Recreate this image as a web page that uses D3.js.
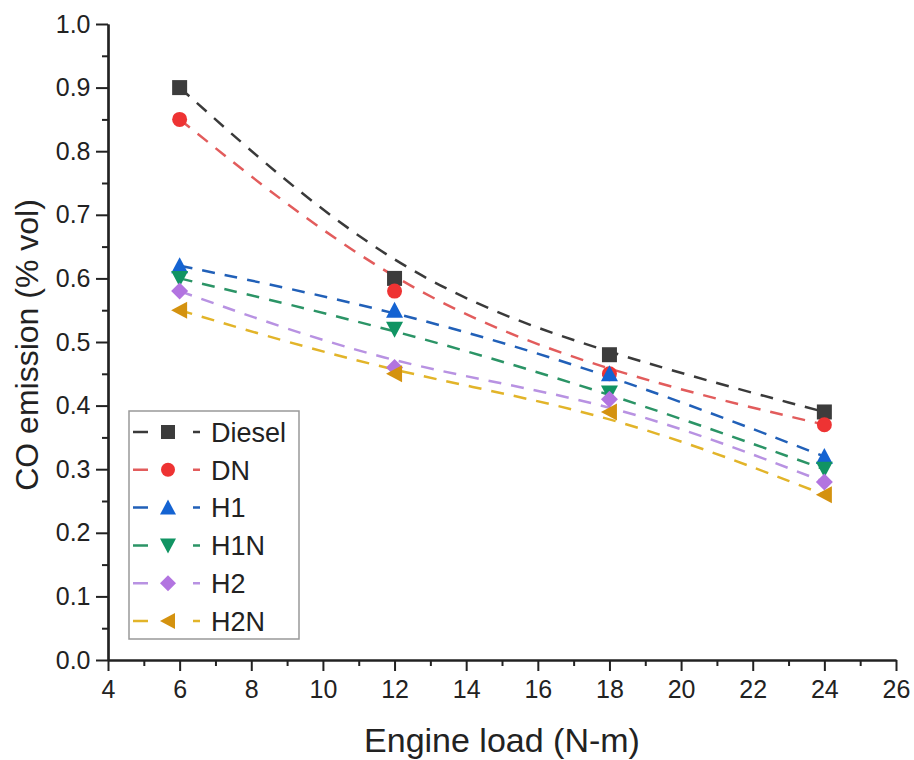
<!DOCTYPE html>
<html>
<head>
<meta charset="utf-8">
<script src="https://cdn.jsdelivr.net/npm/d3@7"></script>
<style>
	body { margin: 0; background: #fff; }
	svg { font-family: "Liberation Sans", Arial, sans-serif; }
</style>
</head>
<body>
<svg id="canvas" width="914" height="760"></svg>
<script>
// engine load values (N-m)
var loads = [6, 12, 18, 24];

// CO emission (% vol) for each fuel
var diesel = [0.90, 0.60, 0.48, 0.39];
var dn = [0.85, 0.58, 0.45, 0.37];
var h1 = [0.62, 0.55, 0.45, 0.32];
var h1n = [0.60, 0.52, 0.42, 0.30];
var h2 = [0.58, 0.46, 0.41, 0.28];
var h2n = [0.55, 0.45, 0.39, 0.26];

var xTicks = [4, 6, 8, 10, 12, 14, 16, 18, 20, 22, 24, 26];
var yTicks = [0.0, 0.1, 0.2, 0.3, 0.4, 0.5, 0.6, 0.7, 0.8, 0.9, 1.0];

var series = [
	{ name: "Diesel", values: diesel, line: "#3a3a3a", fill: "#3c3c3c", symbol: "square" },
	{ name: "DN", values: dn, line: "#e25c5c", fill: "#ee3333", symbol: "circle" },
	{ name: "H1", values: h1, line: "#2160b8", fill: "#1463d2", symbol: "up" },
	{ name: "H1N", values: h1n, line: "#2b9466", fill: "#119463", symbol: "down" },
	{ name: "H2", values: h2, line: "#b892e2", fill: "#b274e0", symbol: "diamond" },
	{ name: "H2N", values: h2n, line: "#e2b429", fill: "#d4920f", symbol: "left" }
];

const svg = d3.select("#canvas");

const x = d3.scaleLinear().domain([4, 26]).range([108, 896]);
const y = d3.scaleLinear().domain([0, 1]).range([660, 24]);

// symbol paths centred at 0,0
function symbolPath(kind, s) {
	const h = s / 2;
	if (kind === "square") return `M${-h},${-h}H${h}V${h}H${-h}Z`;
	if (kind === "circle") return d3.symbol(d3.symbolCircle, Math.PI * h * h)();
	if (kind === "up") return `M0,${-h - 1}L${h + 1},${h}L${-h - 1},${h}Z`;
	if (kind === "down") return `M0,${h + 1}L${h + 1},${-h}L${-h - 1},${-h}Z`;
	if (kind === "diamond") return `M0,${-h - 1}L${h + 1},0L0,${h + 1}L${-h - 1},0Z`;
	if (kind === "left") return `M${-h - 1},0L${h},${-h - 1}L${h},${h + 1}Z`;
}

// axes
const axisColor = "#222";
const xAxis = svg.append("g").attr("transform", `translate(0,${y(0)})`)
	.call(d3.axisBottom(x).tickValues(xTicks).tickSize(11).tickSizeOuter(0));
const xMinor = svg.append("g").attr("transform", `translate(0,${y(0)})`)
	.call(d3.axisBottom(x).tickValues(d3.range(5, 26, 2)).tickSize(6).tickFormat("").tickSizeOuter(0));
const yAxis = svg.append("g").attr("transform", `translate(${x(4)},0)`)
	.call(d3.axisLeft(y).tickValues(yTicks).tickSize(12).tickFormat(d3.format(".1f")).tickSizeOuter(0));
const yMinor = svg.append("g").attr("transform", `translate(${x(4)},0)`)
	.call(d3.axisLeft(y).tickValues(d3.range(0.05, 1, 0.1)).tickSize(6).tickFormat("").tickSizeOuter(0));

[xAxis, xMinor, yAxis, yMinor].forEach(g => {
	g.selectAll("path").attr("stroke", axisColor).attr("stroke-width", 2.2);
	g.selectAll("line").attr("stroke", axisColor).attr("stroke-width", 2);
});
xAxis.selectAll("text").attr("font-size", 25).attr("fill", "#222").attr("dy", "0.95em");
yAxis.selectAll("text").attr("font-size", 25).attr("fill", "#222").attr("dx", "-0.1em");

// axis titles
svg.append("text")
	.attr("x", (x(4) + x(26)) / 2 + 0)
	.attr("y", 752)
	.attr("text-anchor", "middle")
	.attr("font-size", 34)
	.attr("fill", "#222")
	.text("Engine load (N-m)");
svg.append("text")
	.attr("transform", `translate(38,${y(0.5) + 3}) rotate(-90)`)
	.attr("text-anchor", "middle")
	.attr("font-size", 32)
	.attr("fill", "#222")
	.text("CO emission (% vol)");

// lines (B-spline as in the original)
const line = d3.line()
	.x((d, i) => x(loads[i]))
	.y(d => y(d))
	.curve(d3.curveBasis);

svg.append("g").selectAll("path")
	.data(series)
	.join("path")
	.attr("d", d => line(d.values))
	.attr("fill", "none")
	.attr("stroke", d => d.line)
	.attr("stroke-width", 2.5)
	.attr("stroke-dasharray", "13,10");

// markers
series.forEach(s => {
	svg.append("g").selectAll("path")
		.data(s.values)
		.join("path")
		.attr("transform", (d, i) => `translate(${x(loads[i])},${y(d)})`)
		.attr("d", symbolPath(s.symbol, 15))
		.attr("fill", s.fill);
});

// legend
const legend = svg.append("g").attr("transform", "translate(129,411)");
legend.append("rect")
	.attr("width", 170).attr("height", 228)
	.attr("fill", "#fff").attr("stroke", "#999").attr("stroke-width", 1.5);
const rows = legend.selectAll("g.row")
	.data(series)
	.join("g")
	.attr("class", "row")
	.attr("transform", (d, i) => `translate(0,${21 + i * 37.8})`);
rows.append("line")
	.attr("x1", 4).attr("x2", 71)
	.attr("stroke", d => d.line).attr("stroke-width", 2.5)
	.attr("stroke-dasharray", "15,45");
rows.append("path")
	.attr("transform", "translate(39,0)")
	.attr("d", d => symbolPath(d.symbol, 14))
	.attr("fill", d => d.fill);
rows.append("text")
	.attr("x", 82).attr("y", 0).attr("dy", "0.36em")
	.attr("font-size", 27).attr("fill", "#222")
	.text(d => d.name);
</script>
</body>
</html>
